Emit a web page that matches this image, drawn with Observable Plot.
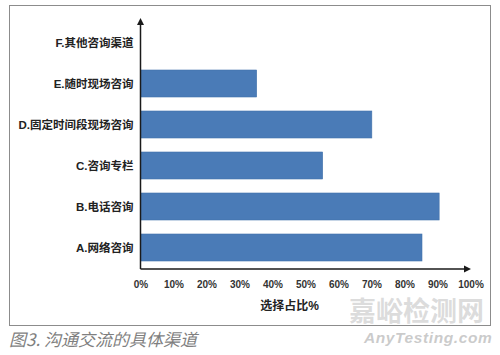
<!DOCTYPE html>
<html>
<head>
<meta charset="utf-8">
<script src="https://cdn.jsdelivr.net/npm/d3@7"></script>
<script src="https://cdn.jsdelivr.net/npm/@observablehq/plot@0.6"></script>
<style>
  html, body { margin: 0; padding: 0; background: #fff; width: 500px; height: 355px; overflow: hidden; position: relative; }
  #frame { position: absolute; left: 9px; top: 5px; width: 482px; height: 321px; box-sizing: border-box; border: 1px solid #8c8c8c; }
  #chart { position: absolute; left: 0; top: 0; }
  #caption { position: absolute; left: 9px; top: 329px; font-family: "Noto Sans CJK SC", sans-serif; font-style: italic; font-size: 17px; line-height: 20px; color: #7f7f7f; }
  #wm1 { position: absolute; left: 349px; top: 292px; font-family: "Noto Sans CJK SC", sans-serif; font-weight: bold; font-size: 27px; line-height: 36px; color: rgba(190,190,190,0.55); letter-spacing: 0px; }
  #wm2 { position: absolute; left: 364px; top: 328px; font-family: "Liberation Sans", sans-serif; font-weight: bold; font-style: italic; font-size: 15.5px; line-height: 20px; color: rgba(180,180,180,0.7); letter-spacing: 0.6px; }
</style>
</head>
<body>
<div id="frame"></div>
<div id="chart"></div>
<div id="caption">图3. 沟通交流的具体渠道</div>
<div id="wm1">嘉峪检测网</div>
<div id="wm2">AnyTesting.com</div>
<script>
const categories = ["A.网络咨询", "B.电话咨询", "C.咨询专栏", "D.固定时间段现场咨询", "E.随时现场咨询", "F.其他咨询渠道"];
const values = [85.3, 90.5, 55.2, 70.1, 35.2, 0];
const xTicks = [0, 10, 20, 30, 40, 50, 60, 70, 80, 90, 100];
const xTitle = "选择占比%";
const xTitleAt = 45;

const data = categories.map((c, i) => ({cat: c, value: values[i]}));

const chart = Plot.plot({
  width: 500,
  height: 330,
  marginLeft: 140.5,
  marginRight: 29.5,
  marginTop: 21,
  marginBottom: 61,
  style: {fontFamily: "'Liberation Sans','Noto Sans CJK SC',sans-serif", fontSize: "10px", background: "transparent", overflow: "visible"},
  x: {domain: [0, 100]},
  y: {domain: categories.slice().reverse(), paddingInner: 0.333, paddingOuter: 0.12},
  marks: [
    Plot.barX(data, {x: "value", y: "cat", fill: "#4a7bb7", stroke: "#4272ab", strokeWidth: 0.6}),
    Plot.axisX({ticks: xTicks, tickFormat: d => d + "%", tickSize: 0, tickPadding: 11, label: null, fontWeight: "bold", fontSize: 10, fill: "#333"}),
    Plot.axisY({tickSize: 0, tickPadding: 7.5, label: null, fontWeight: "bold", fontSize: 11.5, fill: "#222"}),
    Plot.text([xTitle], {x: () => xTitleAt, text: d => d, frameAnchor: "bottom", dy: 40, fontWeight: "bold", fontSize: 12, fill: "#222"})
  ]
});
document.getElementById("chart").appendChild(chart);

// axis lines with arrowheads, positioned through the plot's scales
const xs = chart.scale("x"), ys = chart.scale("y");
const x0 = xs.apply(0), xEnd = xs.apply(100) + 0.5;
const yBottom = ys.range[1], yTop = ys.range[0] - 3;
const g = d3.select(chart).append("g").attr("stroke", "#1a1a1a").attr("fill", "#1a1a1a");
g.append("line").attr("x1", x0).attr("x2", x0).attr("y1", yBottom).attr("y2", yTop + 5).attr("stroke-width", 1.5);
g.append("line").attr("x1", x0).attr("x2", xEnd - 5).attr("y1", yBottom).attr("y2", yBottom).attr("stroke-width", 1.5);
g.append("path").attr("stroke", "none").attr("d", `M${x0},${yTop}L${x0 - 3.5},${yTop + 7}L${x0 + 3.5},${yTop + 7}Z`);
g.append("path").attr("stroke", "none").attr("d", `M${xEnd},${yBottom}L${xEnd - 7},${yBottom - 3.5}L${xEnd - 7},${yBottom + 3.5}Z`);
</script>
</body>
</html>
